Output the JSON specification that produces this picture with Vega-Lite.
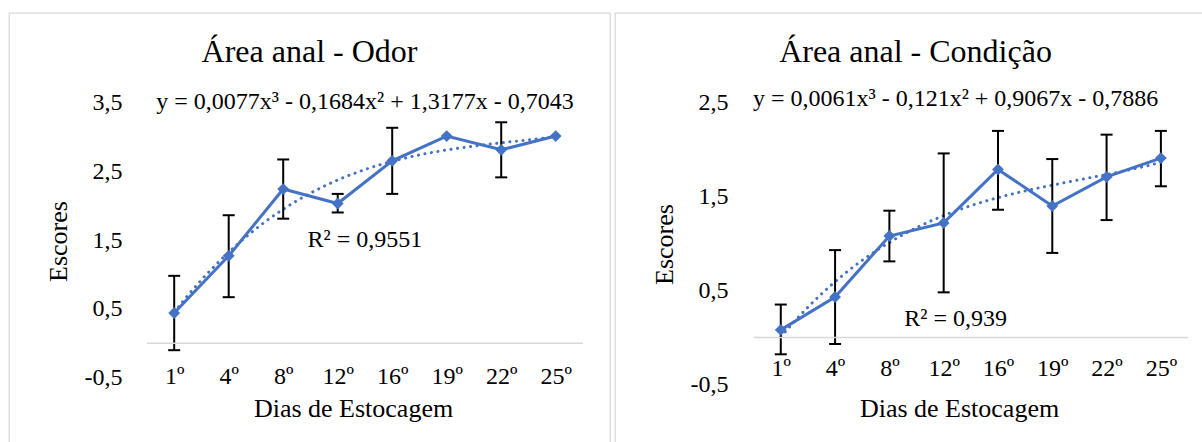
{
  "$schema": "https://vega.github.io/schema/vega-lite/v6.json",
  "padding": {"left": 8, "top": 12, "right": 0, "bottom": 0},
  "spacing": 3,
  "config": {
    "view": {"stroke": "#d9d9d9", "strokeWidth": 1.3},
    "font": "Liberation Serif",
    "axis": {"grid": false, "domain": false, "ticks": false, "labelFont": "Liberation Serif", "labelFontSize": 24, "labelColor": "#000000", "titleFont": "Liberation Serif", "titleFontSize": 26, "titleFontWeight": "normal", "titleColor": "#000000", "labelPadding": 0, "labelFlush": false, "labelOverlap": false},
    "title": {"font": "Liberation Serif", "fontSize": 32, "fontWeight": "normal", "color": "#000000", "anchor": "middle", "frame": "group", "baseline": "alphabetic", "offset": -56},
    "text": {"font": "Liberation Serif", "fontSize": 24, "color": "#000000"}
  },
  "datasets": {
    "odor": [
      {"i": 1, "dia": "1º", "mean": 0.44, "lo": -0.10, "hi": 0.98},
      {"i": 2, "dia": "4º", "mean": 1.27, "lo": 0.67, "hi": 1.86},
      {"i": 3, "dia": "8º", "mean": 2.24, "lo": 1.81, "hi": 2.67},
      {"i": 4, "dia": "12º", "mean": 2.03, "lo": 1.90, "hi": 2.17},
      {"i": 5, "dia": "16º", "mean": 2.65, "lo": 2.17, "hi": 3.13},
      {"i": 6, "dia": "19º", "mean": 3.01, "lo": null, "hi": null},
      {"i": 7, "dia": "22º", "mean": 2.81, "lo": 2.41, "hi": 3.21},
      {"i": 8, "dia": "25º", "mean": 3.01, "lo": null, "hi": null}
    ],
    "condicao": [
      {"i": 1, "dia": "1º", "mean": 0.08, "lo": -0.18, "hi": 0.35},
      {"i": 2, "dia": "4º", "mean": 0.43, "lo": -0.07, "hi": 0.93},
      {"i": 3, "dia": "8º", "mean": 1.08, "lo": 0.81, "hi": 1.35},
      {"i": 4, "dia": "12º", "mean": 1.22, "lo": 0.48, "hi": 1.96},
      {"i": 5, "dia": "16º", "mean": 1.79, "lo": 1.36, "hi": 2.20},
      {"i": 6, "dia": "19º", "mean": 1.40, "lo": 0.90, "hi": 1.90},
      {"i": 7, "dia": "22º", "mean": 1.71, "lo": 1.25, "hi": 2.16},
      {"i": 8, "dia": "25º", "mean": 1.91, "lo": 1.61, "hi": 2.20}
    ]
  },
  "hconcat": [
    {
      "width": 601,
      "height": 440,
      "title": {"text": "Área anal - Odor"},
      "data": {"name": "odor"},
      "layer": [
        {
          "mark": {"type": "line", "color": "#4472C4", "strokeWidth": 3},
          "encoding": {
            "x": {"field": "i", "type": "quantitative", "scale": {"domain": [-2.031, 8.996], "nice": false, "zero": false},
              "axis": {"values": [1, 2, 3, 4, 5, 6, 7, 8], "labelExpr": "['1º','4º','8º','12º','16º','19º','22º','25º'][datum.value - 1]", "title": "Dias de Estocagem", "offset": -77, "labelBaseline": "middle", "titlePadding": 7, "titleX": 344}},
            "y": {"field": "mean", "type": "quantitative", "scale": {"domain": [-1.593, 4.797], "nice": false, "zero": false},
              "axis": {"values": [-0.5, 0.5, 1.5, 2.5, 3.5], "labelExpr": "replace(replace(format(datum.value, '.1f'), '.', ','), '−', '-')", "title": "Escores", "offset": -113, "titlePadding": 13, "titleY": 228}}
          }
        },
        {
          "transform": [{"regression": "mean", "on": "i", "method": "poly", "order": 3, "extent": [1, 8]}],
          "mark": {"type": "line", "color": "#4472C4", "strokeWidth": 3, "strokeDash": [0.1, 6.5], "strokeCap": "round"},
          "encoding": {
            "x": {"field": "i", "type": "quantitative"},
            "y": {"field": "mean", "type": "quantitative"}
          }
        },
        {
          "mark": {"type": "rule", "color": "#000000", "strokeWidth": 2},
          "encoding": {
            "x": {"field": "i", "type": "quantitative"},
            "y": {"field": "lo", "type": "quantitative", "title": "Escores"},
            "y2": {"field": "hi"}
          }
        },
        {
          "mark": {"type": "tick", "orient": "horizontal", "color": "#000000", "size": 12, "thickness": 2, "opacity": 1},
          "encoding": {
            "x": {"field": "i", "type": "quantitative"},
            "y": {"field": "lo", "type": "quantitative", "title": "Escores"}
          }
        },
        {
          "mark": {"type": "tick", "orient": "horizontal", "color": "#000000", "size": 12, "thickness": 2, "opacity": 1},
          "encoding": {
            "x": {"field": "i", "type": "quantitative"},
            "y": {"field": "hi", "type": "quantitative", "title": "Escores"}
          }
        },
        {
          "mark": {"type": "point", "shape": "diamond", "filled": true, "color": "#4472C4", "size": 140, "opacity": 1},
          "encoding": {
            "x": {"field": "i", "type": "quantitative"},
            "y": {"field": "mean", "type": "quantitative"}
          }
        },
        {
          "data": {"values": [{}]},
          "mark": {"type": "rule", "color": "#d9d9d9", "strokeWidth": 1.5},
          "encoding": {
            "x": {"datum": 0.5, "type": "quantitative", "title": "Dias de Estocagem"},
            "x2": {"datum": 8.5},
            "y": {"datum": 0, "type": "quantitative", "title": "Escores"}
          }
        },
        {
          "data": {"values": [{"t": "y = 0,0077x³ - 0,1684x² + 1,3177x - 0,7043", "r": "R² = 0,9551"}]},
          "mark": {"type": "text", "align": "center", "baseline": "middle"},
          "encoding": {
            "x": {"datum": 4.5, "type": "quantitative", "title": "Dias de Estocagem"},
            "y": {"datum": 3.5, "type": "quantitative", "title": "Escores"},
            "text": {"field": "t"}
          }
        },
        {
          "data": {"values": [{"t": "y = 0,0077x³ - 0,1684x² + 1,3177x - 0,7043", "r": "R² = 0,9551"}]},
          "mark": {"type": "text", "align": "center", "baseline": "middle"},
          "encoding": {
            "x": {"datum": 4.5, "type": "quantitative", "title": "Dias de Estocagem"},
            "y": {"datum": 1.5, "type": "quantitative", "title": "Escores"},
            "text": {"field": "r"}
          }
        }
      ]
    },
    {
      "width": 601,
      "height": 440,
      "title": {"text": "Área anal - Condição"},
      "data": {"name": "condicao"},
      "layer": [
        {
          "mark": {"type": "line", "color": "#4472C4", "strokeWidth": 3},
          "encoding": {
            "x": {"field": "i", "type": "quantitative", "scale": {"domain": [-2.053, 9.015], "nice": false, "zero": false},
              "axis": {"values": [1, 2, 3, 4, 5, 6, 7, 8], "labelExpr": "['1º','4º','8º','12º','16º','19º','22º','25º'][datum.value - 1]", "title": "Dias de Estocagem", "offset": -85, "labelBaseline": "middle", "titlePadding": 15, "titleX": 344}},
            "y": {"field": "mean", "type": "quantitative", "scale": {"domain": [-1.2315, 3.456], "nice": false, "zero": false},
              "axis": {"values": [-0.5, 0.5, 1.5, 2.5], "labelExpr": "replace(replace(format(datum.value, '.1f'), '.', ','), '−', '-')", "title": "Escores", "offset": -113, "titlePadding": 13, "titleY": 231}}
          }
        },
        {
          "transform": [{"regression": "mean", "on": "i", "method": "poly", "order": 3, "extent": [1, 8]}],
          "mark": {"type": "line", "color": "#4472C4", "strokeWidth": 3, "strokeDash": [0.1, 6.5], "strokeCap": "round"},
          "encoding": {
            "x": {"field": "i", "type": "quantitative"},
            "y": {"field": "mean", "type": "quantitative"}
          }
        },
        {
          "mark": {"type": "rule", "color": "#000000", "strokeWidth": 2},
          "encoding": {
            "x": {"field": "i", "type": "quantitative"},
            "y": {"field": "lo", "type": "quantitative", "title": "Escores"},
            "y2": {"field": "hi"}
          }
        },
        {
          "mark": {"type": "tick", "orient": "horizontal", "color": "#000000", "size": 12, "thickness": 2, "opacity": 1},
          "encoding": {
            "x": {"field": "i", "type": "quantitative"},
            "y": {"field": "lo", "type": "quantitative", "title": "Escores"}
          }
        },
        {
          "mark": {"type": "tick", "orient": "horizontal", "color": "#000000", "size": 12, "thickness": 2, "opacity": 1},
          "encoding": {
            "x": {"field": "i", "type": "quantitative"},
            "y": {"field": "hi", "type": "quantitative", "title": "Escores"}
          }
        },
        {
          "mark": {"type": "point", "shape": "diamond", "filled": true, "color": "#4472C4", "size": 140, "opacity": 1},
          "encoding": {
            "x": {"field": "i", "type": "quantitative"},
            "y": {"field": "mean", "type": "quantitative"}
          }
        },
        {
          "data": {"values": [{}]},
          "mark": {"type": "rule", "color": "#d9d9d9", "strokeWidth": 1.5},
          "encoding": {
            "x": {"datum": 0.5, "type": "quantitative", "title": "Dias de Estocagem"},
            "x2": {"datum": 8.5},
            "y": {"datum": 0, "type": "quantitative", "title": "Escores"}
          }
        },
        {
          "data": {"values": [{"t": "y = 0,0061x³ - 0,121x² + 0,9067x - 0,7886", "r": "R² = 0,939"}]},
          "mark": {"type": "text", "align": "center", "baseline": "middle"},
          "encoding": {
            "x": {"datum": 4.22, "type": "quantitative", "title": "Dias de Estocagem"},
            "y": {"datum": 2.54, "type": "quantitative", "title": "Escores"},
            "text": {"field": "t"}
          }
        },
        {
          "data": {"values": [{"t": "y = 0,0061x³ - 0,121x² + 0,9067x - 0,7886", "r": "R² = 0,939"}]},
          "mark": {"type": "text", "align": "center", "baseline": "middle"},
          "encoding": {
            "x": {"datum": 4.22, "type": "quantitative", "title": "Dias de Estocagem"},
            "y": {"datum": 0.2, "type": "quantitative", "title": "Escores"},
            "text": {"field": "r"}
          }
        }
      ]
    }
  ]
}
